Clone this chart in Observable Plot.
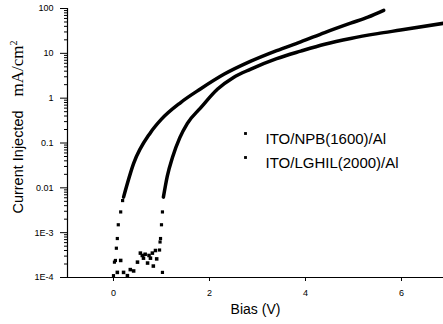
<!DOCTYPE html>
<html>
<head>
<meta charset="utf-8">
<script src="https://cdn.jsdelivr.net/npm/d3@7"></script>
<script src="https://cdn.jsdelivr.net/npm/@observablehq/plot@0.6"></script>
<style>
  html, body { margin: 0; padding: 0; background: #fff; }
  svg { display: block; }
</style>
</head>
<body>
<div id="chart"></div>
<script>
// Series: bias (V) and injected current density (mA/cm^2)
const seriesNames = ["ITO/NPB(1600)/Al", "ITO/LGHIL(2000)/Al"];

// ITO/NPB(1600)/Al — continuous part
const npbV = [0.21, 0.42, 0.77, 1.0, 1.4, 1.81, 2.3, 2.85, 3.4, 3.9, 4.4, 4.94, 5.3, 5.63];
const npbJ = [0.0062, 0.035, 0.17, 0.34, 0.8, 1.6, 3.4, 6.6, 11.5, 18, 29, 47, 64, 91];
// ITO/NPB(1600)/Al — sparse low-current points
const npbLowV = [0.0, 0.02, 0.04, 0.06, 0.08, 0.10, 0.15, 0.19];
const npbLowJ = [0.00011, 0.00022, 0.00024, 0.00045, 0.00074, 0.0015, 0.0029, 0.0052];

// ITO/LGHIL(2000)/Al — continuous part
const lghV = [1.04, 1.12, 1.23, 1.38, 1.54, 1.81, 2.17, 2.5, 2.85, 3.4, 3.9, 4.4, 4.94, 5.5, 5.98, 6.875];
const lghJ = [0.0062, 0.018, 0.048, 0.13, 0.275, 0.6, 1.6, 2.9, 4.4, 7.6, 11.2, 16, 21.5, 27.5, 33, 46.8];
// ITO/LGHIL(2000)/Al — sparse low-current points
const lghLowV = [0.96, 0.97, 0.98, 1.0, 1.02, 1.02];
const lghLowJ = [0.00041, 0.00062, 0.00074, 0.0015, 0.0029, 0.00013];

// noise near the onset (both devices)
const noiseV = [0.08, 0.15, 0.21, 0.42, 0.50, 0.56, 0.625, 0.71, 0.77, 0.81, 0.83, 0.875, 0.6, 0.66, 0.74, 0.9, 0.29, 0.35];
const noiseJ = [0.00013, 0.00024, 0.00013, 0.00014, 0.00022, 0.00035, 0.00027, 0.00021, 0.00027, 0.00035, 0.00018, 0.0004, 0.00031, 0.00033, 0.00031, 0.00026, 0.00011, 0.00015];

// axis ticks
const xTicks = [0, 2, 4, 6];
const yTicks = [1e-4, 1e-3, 0.01, 0.1, 1, 10, 100];
const yTickLabels = ["1E-4", "1E-3", "0.01", "0.1", "1", "10", "100"];
const yMinor = [];
for (let e = -4; e < 2; e++) for (let m = 2; m <= 9; m++) yMinor.push(m * Math.pow(10, e));

const xDomain = [-0.958, 6.875];
const yDomain = [1e-4, 100];

const toRows = (xs, ys) => xs.map((v, i) => ({v, j: ys[i]}));
const npb = toRows(npbV, npbJ);
const npbLow = toRows(npbLowV, npbLowJ);
const lgh = toRows(lghV, lghJ);
const lghLow = toRows(lghLowV, lghLowJ);
const noise = toRows(noiseV, noiseJ);

const legendMarks = seriesNames.flatMap((name, i) => [
  Plot.dot([name], {frameAnchor: "top-left", dx: 178, dy: 125 + i * 24, symbol: "square", r: 1.6, fill: "#000"}),
  Plot.text([name], {frameAnchor: "top-left", dx: 198, dy: 125 + i * 24, text: d => d, textAnchor: "start", fontSize: 15, fill: "#000"})
]);

const chart = Plot.plot({
  width: 443,
  height: 324,
  marginLeft: 67,
  marginRight: 0,
  marginTop: 8,
  marginBottom: 47,
  style: {background: "#fff", color: "#000", fontFamily: "Liberation Sans, Arial, sans-serif"},
  x: {domain: xDomain, label: null},
  y: {type: "log", domain: yDomain, label: null},
  marks: [
    Plot.ruleX([xDomain[0]], {stroke: "#000", strokeWidth: 1.2}),
    Plot.ruleY([yDomain[0]], {stroke: "#000", strokeWidth: 1.2}),
    Plot.axisY(yMinor, {tickSize: 3, tickFormat: () => "", stroke: "#000", label: null}),
    Plot.axisY(yTicks, {
      tickSize: 7, tickPadding: 7, fontSize: 9, stroke: "#000",
      tickFormat: d => yTickLabels[yTicks.indexOf(d)], label: null
    }),
    Plot.axisX(xTicks, {tickSize: 4, tickPadding: 8, fontSize: 9, stroke: "#000", label: null}),
    Plot.line(npb, {x: "v", y: "j", stroke: "#000", strokeWidth: 3.5, curve: "monotone-x"}),
    Plot.line(lgh, {x: "v", y: "j", stroke: "#000", strokeWidth: 3.5, curve: "monotone-x"}),
    Plot.dot(npbLow, {x: "v", y: "j", symbol: "square", r: 1.8, fill: "#000"}),
    Plot.dot(lghLow, {x: "v", y: "j", symbol: "square", r: 1.8, fill: "#000"}),
    Plot.dot(noise, {x: "v", y: "j", symbol: "square", r: 2, fill: "#000"}),
    ...legendMarks,
    // x label
    Plot.text(["Bias (V)"], {frameAnchor: "bottom", dx: 0, dy: 36, text: d => d, fontSize: 14, fill: "#000"})
  ]
});

document.getElementById("chart").appendChild(chart);

// Y label with mixed fonts
const svg = d3.select(chart);
const ylab = svg.append("text")
  .attr("transform", "translate(23,127) rotate(-90)")
  .attr("text-anchor", "middle")
  .attr("fill", "#000");
ylab.append("tspan").attr("font-family", "Liberation Sans, Arial, sans-serif").attr("font-size", 14.5).text("Current Injected");
ylab.append("tspan").attr("font-family", "Liberation Serif, Times New Roman, serif").attr("font-size", 17).attr("dx", 14).text("mA/cm");
ylab.append("tspan").attr("font-family", "Liberation Serif, Times New Roman, serif").attr("font-size", 10).attr("dy", -6).text("2");
</script>
</body>
</html>
